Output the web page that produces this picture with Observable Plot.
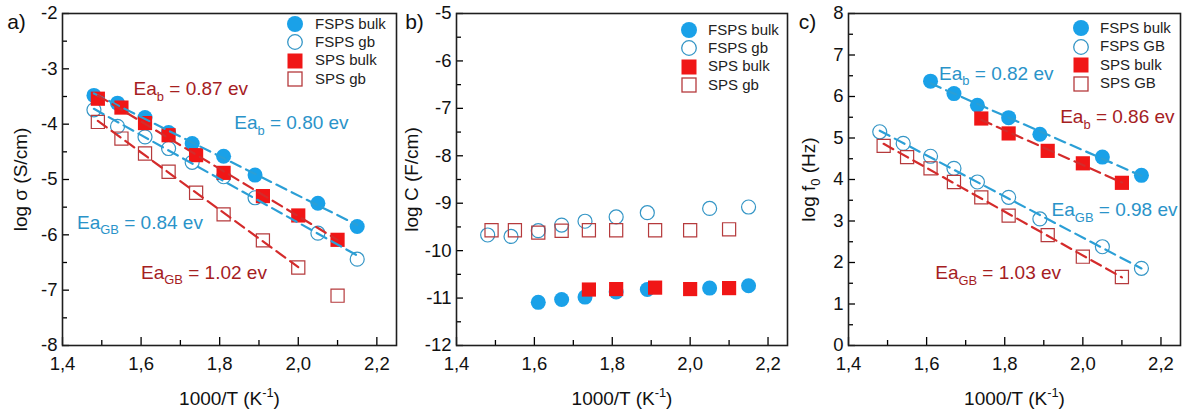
<!DOCTYPE html>
<html><head><meta charset="utf-8">
<script src="https://cdn.jsdelivr.net/npm/d3@7"></script>
<script src="https://cdn.jsdelivr.net/npm/@observablehq/plot@0.6"></script>
<style>
body{margin:0;background:#fff;font-family:"Liberation Sans",Arial,sans-serif;}
#wrap{position:relative;width:1182px;height:412px;overflow:hidden;background:#fff;}
.panel{position:absolute;top:0;}
.lg{position:absolute;font:15px "Liberation Sans",Arial,sans-serif;color:#222;white-space:nowrap;line-height:18px;}
</style></head><body><div id="wrap"></div>
<script>
// ---------- data ----------
const xFSPS = [1.48, 1.54, 1.61, 1.67, 1.73, 1.81, 1.89, 2.05, 2.15];
const xSPS  = [1.49, 1.55, 1.61, 1.67, 1.74, 1.81, 1.91, 2.00, 2.10];
const xFSPSbulkBC = [1.61, 1.67, 1.73, 1.81, 1.89, 2.05, 2.15];
const xSPSbulkBC  = [1.74, 1.81, 1.91, 2.00, 2.10];

// panel a: log sigma (S/cm)
const sigmaFSPSbulk = [-3.48, -3.62, -3.88, -4.15, -4.35, -4.58, -4.92, -5.43, -5.85];
const sigmaFSPSgb   = [-3.74, -4.04, -4.23, -4.44, -4.69, -4.95, -5.33, -5.97, -6.44];
const sigmaSPSbulk  = [-3.54, -3.70, -3.98, -4.20, -4.56, -4.88, -5.30, -5.65, -6.09];
const sigmaSPSgb    = [-3.96, -4.26, -4.53, -4.86, -5.24, -5.63, -6.10, -6.59, -7.10];

// panel b: log C (F/cm)
const capFSPSbulk = [-11.09, -11.03, -10.98, -10.87, -10.82, -10.79, -10.74];
const capFSPSgb   = [-9.67, -9.70, -9.58, -9.46, -9.38, -9.29, -9.20, -9.11, -9.08];
const capSPSbulk  = [-10.82, -10.81, -10.78, -10.81, -10.79];
const capSPSgb    = [-9.57, -9.57, -9.62, -9.58, -9.57, -9.57, -9.57, -9.57, -9.55];

// panel c: log f0 (Hz)
const fFSPSbulk = [6.37, 6.07, 5.79, 5.49, 5.09, 4.54, 4.10];
const fFSPSgb   = [5.15, 4.87, 4.56, 4.27, 3.94, 3.57, 3.05, 2.38, 1.86];
const fSPSbulk  = [5.47, 5.11, 4.69, 4.39, 3.92];
const fSPSgb    = [4.81, 4.54, 4.27, 3.94, 3.57, 3.13, 2.66, 2.14, 1.65];

const xMajor = [1.4, 1.6, 1.8, 2.0, 2.2];
const xMinor = [1.5, 1.7, 1.9, 2.1];

const legendAB = ["FSPS bulk", "FSPS gb", "SPS bulk", "SPS gb"];
const legendC  = ["FSPS bulk", "FSPS GB", "SPS bulk", "SPS GB"];

const notesA = [
  {x: 1.581, y: -3.37, text: "Ea_{b} = 0.87 ev", kind: "red"},
  {x: 1.837, y: -3.98, text: "Ea_{b} = 0.80 ev", kind: "blue"},
  {x: 1.437, y: -5.78, text: "Ea_{GB} = 0.84 ev", kind: "blue"},
  {x: 1.600, y: -6.68, text: "Ea_{GB} = 1.02 ev", kind: "red"}
];
const notesC = [
  {x: 1.632, y: 6.55, text: "Ea_{b} = 0.82 ev", kind: "blue"},
  {x: 1.942, y: 5.50, text: "Ea_{b} = 0.86 ev", kind: "red"},
  {x: 1.920, y: 3.26, text: "Ea_{GB} = 0.98 ev", kind: "blue"},
  {x: 1.622, y: 1.75, text: "Ea_{GB} = 1.03 ev", kind: "red"}
];

// ---------- styles ----------
const C = {
  blueFill: "#1aa1e8", blueOpen: "#3596c6", redFill: "#f01616", redOpen: "#b53a3c",
  blueLine: "#2b9fd6", redLine: "#d42b2b", blueText: "#2a93c9", redText: "#a5201f"
};
const FONT = "Liberation Sans, Arial, sans-serif";

const rows = (xs, ys) => xs.map((x, i) => ({x, y: ys[i]}));
const range = (a, b, s) => d3.range(Math.round((b - a) / s) + 1).map(i => +(a + i * s).toFixed(2));

function richify(svg) {
  const ns = "http://www.w3.org/2000/svg";
  svg.querySelectorAll("text").forEach(t => {
    const s = t.textContent;
    if (!/[_^]\{/.test(s)) return;
    const fs = parseFloat(getComputedStyle(t).fontSize) || 18;
    while (t.firstChild) t.removeChild(t.firstChild);
    const re = /([_^])\{([^}]*)\}/g;
    let last = 0, m, cur = 0;
    const add = (str, target, small) => {
      const ts = document.createElementNS(ns, "tspan");
      ts.textContent = str;
      const d = target - cur;
      if (d) ts.setAttribute("dy", d);
      if (small) ts.setAttribute("font-size", (fs * 0.68).toFixed(1));
      cur = target;
      t.appendChild(ts);
    };
    while ((m = re.exec(s))) {
      if (m.index > last) add(s.slice(last, m.index), 0, false);
      add(m[2], m[1] === "_" ? 0.3 * fs : -0.42 * fs, true);
      last = re.lastIndex;
    }
    if (last < s.length) add(s.slice(last), 0, false);
  });
}

function legend(wrap, mx, tx, y0, labels) {
  const kinds = ["blueFill", "blueOpen", "redFill", "redOpen"];
  labels.forEach((lab, i) => {
    const y = y0 + i * 18.4;
    const s = d3.select(wrap).append("svg").attr("width", 20).attr("height", 20)
      .style("position", "absolute").style("left", (mx - 10) + "px").style("top", (y - 10) + "px");
    const k = kinds[i];
    if (k === "blueFill") s.append("circle").attr("cx", 10).attr("cy", 10).attr("r", 8).attr("fill", C.blueFill);
    if (k === "blueOpen") s.append("circle").attr("cx", 10).attr("cy", 10).attr("r", 7.3).attr("fill", "none").attr("stroke", C.blueOpen).attr("stroke-width", 1.3);
    if (k === "redFill") s.append("rect").attr("x", 2.5).attr("y", 2.5).attr("width", 15).attr("height", 15).attr("fill", C.redFill);
    if (k === "redOpen") s.append("rect").attr("x", 3).attr("y", 3).attr("width", 14).attr("height", 14).attr("fill", "none").attr("stroke", C.redOpen).attr("stroke-width", 1.3);
    d3.select(wrap).append("div").attr("class", "lg").style("left", tx + "px").style("top", (y - 9.5) + "px").text(lab);
  });
}

function panel(cfg) {
  const {left, width, marginLeft, marginRight, yDomain, yStepMinor, series, fits, notes, tag, tagDx, ylabel, ylabelDx} = cfg;
  const yAll = range(Math.min(...yDomain), Math.max(...yDomain), yStepMinor);
  const yMinor = yAll.filter(v => !Number.isInteger(v));
  const yMajor = yAll.filter(Number.isInteger);
  const marks = [
    Plot.axisX({ticks: xMinor, tickSize: -5, tickFormat: () => "", label: null, strokeWidth: 1.3}),
    Plot.axisX({ticks: xMajor, tickSize: -8, tickFormat: () => "", label: null, strokeWidth: 1.3}),
    Plot.axisX({ticks: xMajor, tickSize: 0, tickPadding: 11, label: null, fontSize: 18.5, fill: "#111",
      tickFormat: d => d.toFixed(1).replace(".", ",")}),
    Plot.axisY({ticks: yMinor, tickSize: -5, tickFormat: () => "", label: null, strokeWidth: 1.3}),
    Plot.axisY({ticks: yMajor, tickSize: -7, tickFormat: () => "", label: null, strokeWidth: 1.3}),
    Plot.axisY({ticks: yMajor, tickSize: 0, tickPadding: 5, label: null, fontSize: 18.5, fill: "#111",
      tickFormat: d => String(d)}),
  ];
  series.forEach(s => marks.push(Plot.dot(s.data, {x: "x", y: "y", symbol: s.symbol, r: s.r,
    fill: s.fill || "none", stroke: s.stroke || "none", strokeWidth: s.strokeWidth || 0})));
  (fits || []).forEach(f => marks.push(Plot.linearRegressionY(f.data, {x: "x", y: "y", ci: 0,
    stroke: f.stroke, strokeWidth: 2.2, strokeDasharray: "11,6"})));
  if (notes) marks.push(Plot.text(notes, {x: "x", y: "y", text: "text", textAnchor: "start", lineAnchor: "middle",
    fontSize: 19, fill: d => d.kind === "red" ? C.redText : C.blueText}));
  marks.push(Plot.frame({stroke: "#1e1e1e", strokeWidth: 1.6}));
  marks.push(Plot.text([tag], {frameAnchor: "top-left", dx: tagDx, dy: 9, text: d => d, fontSize: 21,
    textAnchor: "middle", lineAnchor: "middle", fill: "#111"}));
  marks.push(Plot.text([ylabel], {frameAnchor: "left", dx: ylabelDx, rotate: -90, text: d => d, fontSize: 19,
    textAnchor: "middle", lineAnchor: "middle", fill: "#111"}));
  marks.push(Plot.text(["1000/T (K^{-1})"], {frameAnchor: "bottom", dy: 53, text: d => d, fontSize: 19,
    textAnchor: "middle", lineAnchor: "middle", fill: "#111"}));

  const svg = Plot.plot({
    width, height: 412, marginLeft, marginRight, marginTop: 13, marginBottom: 67,
    x: {domain: [1.4, 2.25]}, y: {domain: yDomain},
    style: {background: "transparent", overflow: "visible", fontFamily: FONT},
    marks
  });
  const div = document.createElement("div");
  div.className = "panel";
  div.style.left = left + "px";
  div.style.width = width + "px";
  div.appendChild(svg);
  document.getElementById("wrap").appendChild(div);
  richify(svg);
}

const RC = 7.5, RS = 8.0, RSo = 7.4;

// panel a
panel({
  left: 0, width: 400, marginLeft: 62, marginRight: 4, yDomain: [-8, -2], yStepMinor: 0.5,
  tag: "a)", tagDx: -46, ylabel: "log σ (S/cm)", ylabelDx: -42,
  series: [
    {data: rows(xFSPS, sigmaFSPSbulk), symbol: "circle", r: RC, fill: C.blueFill},
    {data: rows(xFSPS, sigmaFSPSgb), symbol: "circle", r: 7, stroke: C.blueOpen, strokeWidth: 1.2},
    {data: rows(xSPS, sigmaSPSbulk), symbol: "square", r: RS, fill: C.redFill},
    {data: rows(xSPS, sigmaSPSgb), symbol: "square", r: RSo, stroke: C.redOpen, strokeWidth: 1.2}
  ],
  fits: [
    {data: rows(xFSPS, sigmaFSPSbulk), stroke: C.blueLine},
    {data: rows(xFSPS, sigmaFSPSgb), stroke: C.blueLine},
    {data: rows(xSPS, sigmaSPSbulk), stroke: C.redLine},
    {data: rows(xSPS, sigmaSPSgb).slice(0, 8), stroke: C.redLine}
  ],
  notes: notesA
});

// panel b
panel({
  left: 394, width: 394, marginLeft: 62, marginRight: 1, yDomain: [-12, -5], yStepMinor: 0.5,
  tag: "b)", tagDx: -42, ylabel: "log C (F/cm)", ylabelDx: -45,
  series: [
    {data: rows(xFSPSbulkBC, capFSPSbulk), symbol: "circle", r: RC, fill: C.blueFill},
    {data: rows(xFSPS, capFSPSgb), symbol: "circle", r: 7, stroke: C.blueOpen, strokeWidth: 1.2},
    {data: rows(xSPSbulkBC, capSPSbulk), symbol: "square", r: RS, fill: C.redFill},
    {data: rows(xSPS, capSPSgb), symbol: "square", r: RSo, stroke: C.redOpen, strokeWidth: 1.2}
  ]
});

// panel c
panel({
  left: 786, width: 396, marginLeft: 62, marginRight: 2, yDomain: [0, 8], yStepMinor: 0.5,
  tag: "c)", tagDx: -41, ylabel: "log f_{0} (Hz)", ylabelDx: -40,
  series: [
    {data: rows(xFSPSbulkBC, fFSPSbulk), symbol: "circle", r: RC, fill: C.blueFill},
    {data: rows(xFSPS, fFSPSgb), symbol: "circle", r: 7, stroke: C.blueOpen, strokeWidth: 1.2},
    {data: rows(xSPSbulkBC, fSPSbulk), symbol: "square", r: RS, fill: C.redFill},
    {data: rows(xSPS, fSPSgb), symbol: "square", r: RSo, stroke: C.redOpen, strokeWidth: 1.2}
  ],
  fits: [
    {data: rows(xFSPSbulkBC, fFSPSbulk), stroke: C.blueLine},
    {data: rows(xFSPS, fFSPSgb), stroke: C.blueLine},
    {data: rows(xSPSbulkBC, fSPSbulk), stroke: C.redLine},
    {data: rows(xSPS, fSPSgb), stroke: C.redLine}
  ],
  notes: notesC
});

const wrap = document.getElementById("wrap");
legend(wrap, 295, 315, 24, legendAB);
legend(wrap, 689, 708, 30, legendAB);
legend(wrap, 1081, 1100, 28.3, legendC);
</script></body></html>
